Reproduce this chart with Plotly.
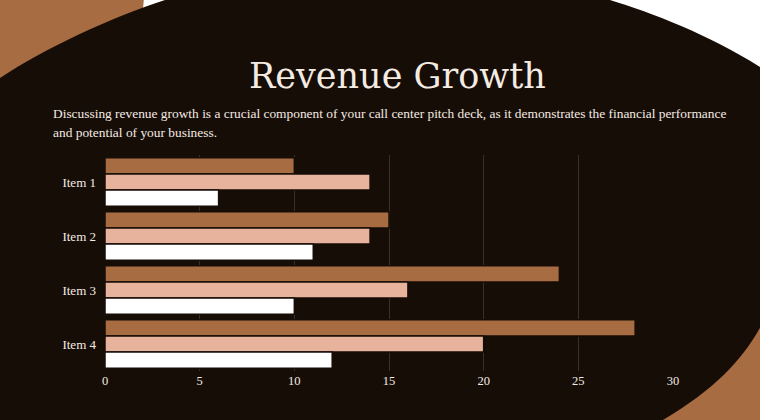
import plotly.graph_objects as go

# ---- data ----
categories = ["Item 1", "Item 2", "Item 3", "Item 4"]
series_a = [10, 15, 24, 28]
series_b = [14, 14, 16, 20]
series_c = [6, 11, 10, 12]
series_names = ["Series 1", "Series 2", "Series 3"]
x_ticks = [0, 5, 10, 15, 20, 25, 30]

# ---- styling ----
W, H = 760, 420
L, R, T, B = 105, 87, 155, 49
PW, PH = W - L - R, H - T - B
DARK = "#170d07"
BROWN = "#a86c43"
PEACH = "#e8b39c"
WHITE = "#ffffff"
CREAM = "#f4ebe3"


def px(x):
    return (x - L) / PW


def py(y):
    return (H - B - y) / PH


def path(cmds):
    out = []
    for c in cmds:
        if isinstance(c, str):
            out.append(c)
        else:
            out.append(f"{px(c[0]):.5f},{py(c[1]):.5f}")
    return " ".join(out)


fig = go.Figure()
for name, vals, col in zip(series_names, [series_a, series_b, series_c], [BROWN, PEACH, WHITE]):
    fig.add_trace(go.Bar(
        y=categories, x=vals, name=name, orientation="h",
        marker=dict(color=col, line=dict(color=DARK, width=1.5)),
    ))

dark_path = path([
    "M", (-20, 90), "L", (0, 78),
    "C", (45, 48), (110, 18), (165, 0),
    "L", (165, -30), "L", (610, -30), "L", (610, 0),
    "C", (650, 12), (710, 35), (760, 67),
    "L", (820, 95), "L", (820, 300), "L", (772, 304),
    "C", (752, 348), (727, 382), (663, 420),
    "L", (640, 450), "L", (-20, 450), "Z",
])

shapes = [
    # top-left brown blob
    dict(type="circle", xref="paper", yref="paper",
         x0=px(-160), x1=px(144), y0=py(-160), y1=py(144),
         fillcolor=BROWN, line=dict(width=0), layer="below"),
    # bottom-right brown blob
    dict(type="rect", xref="paper", yref="paper",
         x0=px(600), x1=px(800), y0=py(250), y1=py(460),
         fillcolor=BROWN, line=dict(width=0), layer="below"),
    # dark main shape
    dict(type="path", xref="paper", yref="paper", path=dark_path,
         fillcolor=DARK, line=dict(width=0), layer="below"),
]

annotations = [
    dict(text="Revenue Growth", xref="paper", yref="paper",
         x=px(397), y=py(76), xanchor="center", yanchor="middle", showarrow=False,
         font=dict(family="DejaVu Serif", size=35, color=CREAM)),
    dict(text="Discussing revenue growth is a crucial component of your call center pitch deck, as it demonstrates the financial performance",
         xref="paper", yref="paper", x=px(51), y=py(113), xanchor="left", yanchor="middle",
         showarrow=False, font=dict(family="Liberation Serif", size=13.4, color=CREAM)),
    dict(text="and potential of your business.",
         xref="paper", yref="paper", x=px(51), y=py(132), xanchor="left", yanchor="middle",
         showarrow=False, font=dict(family="Liberation Serif", size=13.4, color=CREAM)),
]

fig.update_layout(
    width=W, height=H,
    margin=dict(l=L, r=R, t=T, b=B, pad=0),
    paper_bgcolor=WHITE,
    plot_bgcolor="rgba(0,0,0,0)",
    barmode="group",
    bargap=0.1,
    bargroupgap=0,
    showlegend=False,
    shapes=shapes,
    annotations=annotations,
    font=dict(family="Liberation Serif", color=CREAM, size=12),
    xaxis=dict(range=[0, 30], tickvals=x_ticks, showgrid=True, gridcolor="#3b2f28",
               gridwidth=1, zeroline=False, showline=False, ticks="",
               tickfont=dict(family="Liberation Serif", size=12.5, color=CREAM)),
    yaxis=dict(autorange="reversed", showgrid=False, zeroline=False, showline=False,
               ticks="", ticklabelstandoff=8,
               tickfont=dict(family="Liberation Serif", size=13, color=CREAM)),
)

fig.write_html(
    "out.html",
    config={"displayModeBar": False},
    post_script="document.body.style.margin='0';document.body.style.overflow='hidden';",
)
